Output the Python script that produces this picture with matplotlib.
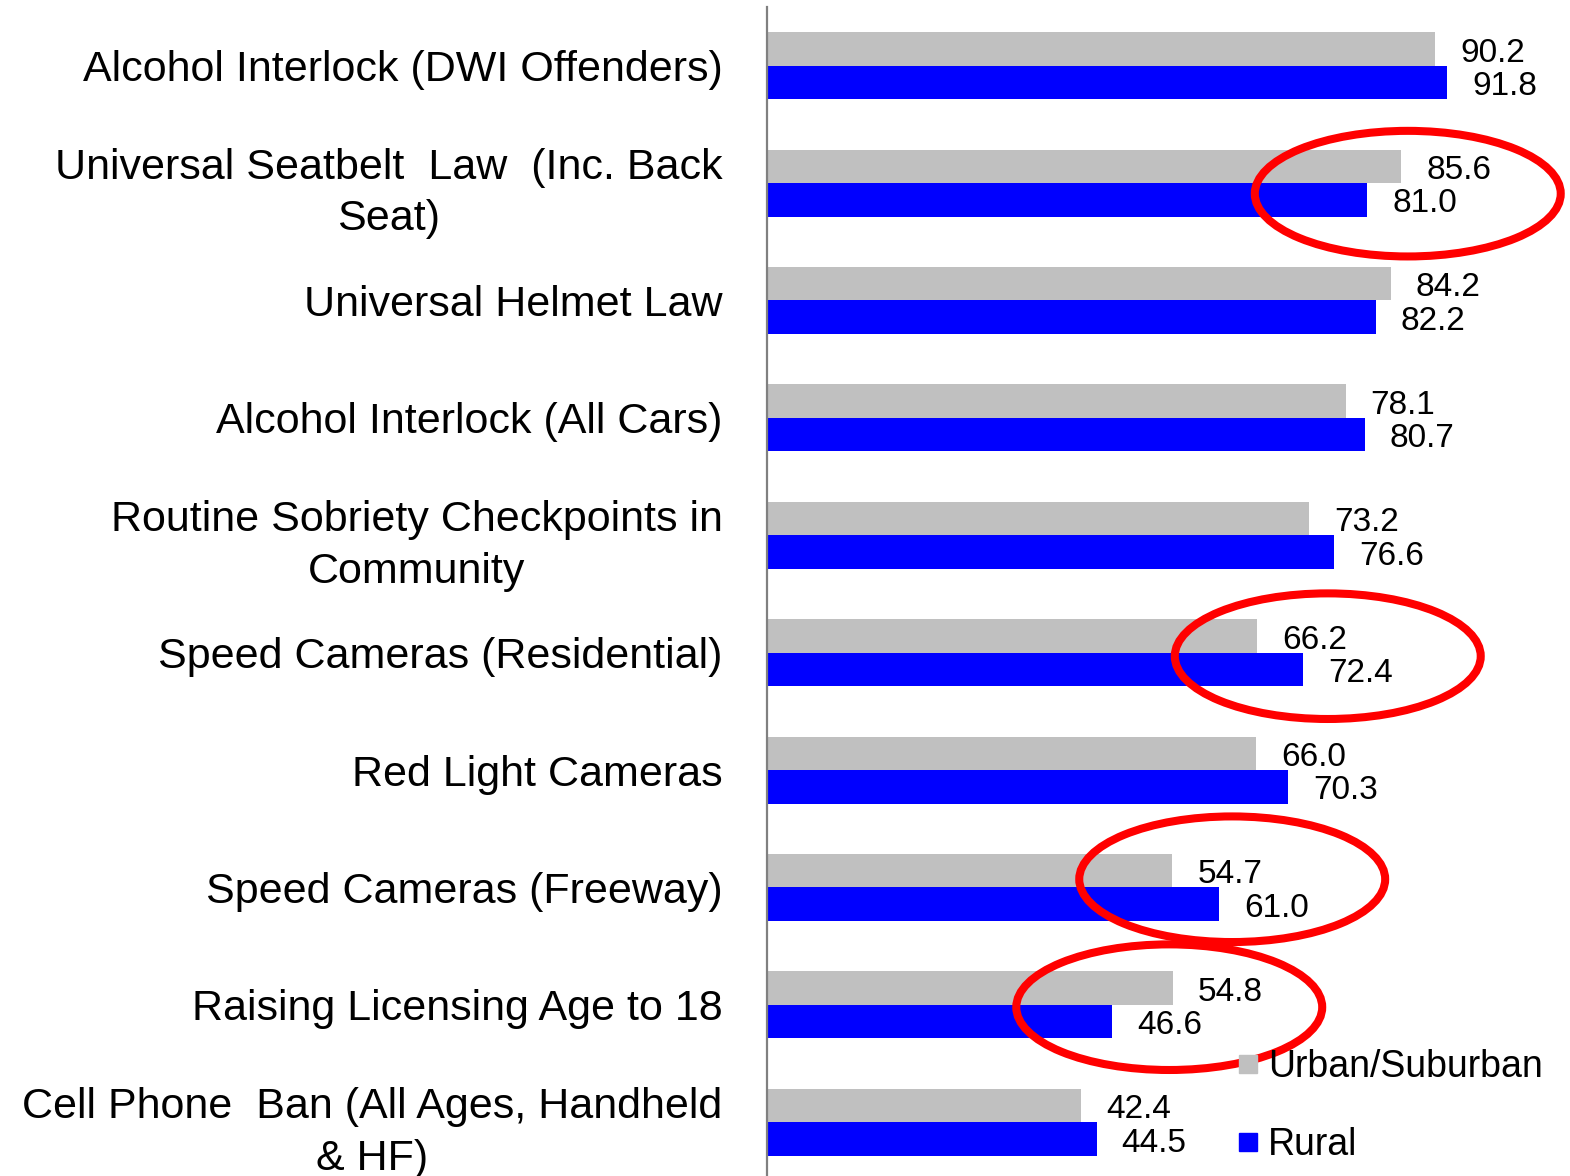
import matplotlib.pyplot as plt
import numpy as np
from matplotlib.patches import Ellipse
from matplotlib.lines import Line2D

plt.rcParams['font.family'] = ['Liberation Sans', 'DejaVu Sans']

# Data (top to bottom)
categories = [
    'Alcohol Interlock (DWI Offenders)',
    'Universal Seatbelt  Law  (Inc. Back\nSeat)',
    'Universal Helmet Law',
    'Alcohol Interlock (All Cars)',
    'Routine Sobriety Checkpoints in\nCommunity',
    'Speed Cameras (Residential)',
    'Red Light Cameras',
    'Speed Cameras (Freeway)',
    'Raising Licensing Age to 18',
    'Cell Phone  Ban (All Ages, Handheld\n& HF)',
]
urban = [90.2, 85.6, 84.2, 78.1, 73.2, 66.2, 66.0, 54.7, 54.8, 42.4]
rural = [91.8, 81.0, 82.2, 80.7, 76.6, 72.4, 70.3, 61.0, 46.6, 44.5]

# red circles drawn around some of the pairs
circled = [1, 5, 7, 8]
circle_x = [86.5, 75.7, 62.8, 54.3]
circle_dy = [0.09, 0.03, -0.07, 0.02]

gray = '#C0C0C0'
blue = '#0000FF'

fig = plt.figure(figsize=(15.7, 11.76), dpi=100)
ax = fig.add_axes([767 / 1570, 0, 803 / 1570, 1 - 7 / 1176])

y = np.arange(len(categories))
h = 0.285
ax.barh(y - h / 2, urban, height=h, color=gray, label='Urban/Suburban')
ax.barh(y + h / 2, rural, height=h, color=blue, label='Rural')

for i in range(len(categories)):
    ax.annotate(f'{urban[i]:.1f}', (urban[i], y[i] - h / 2), xytext=(18, -3),
                textcoords='offset points', ha='left', va='center', fontsize=24)
    ax.annotate(f'{rural[i]:.1f}', (rural[i], y[i] + h / 2), xytext=(18, -3),
                textcoords='offset points', ha='left', va='center', fontsize=24)

for idx, cx, dy in zip(circled, circle_x, circle_dy):
    e = Ellipse((cx, idx + dy), 41.3, 1.07, fill=False, edgecolor='#FF0000',
                linewidth=5.8, clip_on=False, zorder=5)
    ax.add_patch(e)

ax.set_xlim(0, 108.4)
ax.set_ylim(9.458, -0.5)
ax.set_yticks(y)
ax.set_yticklabels(categories, fontsize=31, linespacing=1.38)
for t in ax.get_yticklabels():
    t.set_multialignment('center')
ax.tick_params(axis='y', length=0, pad=32)
ax.set_xticks([])

for s in ['top', 'right', 'bottom']:
    ax.spines[s].set_visible(False)
ax.spines['left'].set_color('#808080')
ax.spines['left'].set_linewidth(1.6)

handles = [Line2D([], [], marker='s', linestyle='none', markersize=13, color=gray),
           Line2D([], [], marker='s', linestyle='none', markersize=13, color=blue)]
fig.legend(handles, ['Urban/Suburban', 'Rural'], loc='upper left',
           bbox_to_anchor=(1237 / 1570, 1 - 1049 / 1176), frameon=False,
           fontsize=27, handlelength=0.6, handletextpad=0.22, labelspacing=1.12,
           borderpad=0, borderaxespad=0)

fig.savefig('out.png', dpi=100)
